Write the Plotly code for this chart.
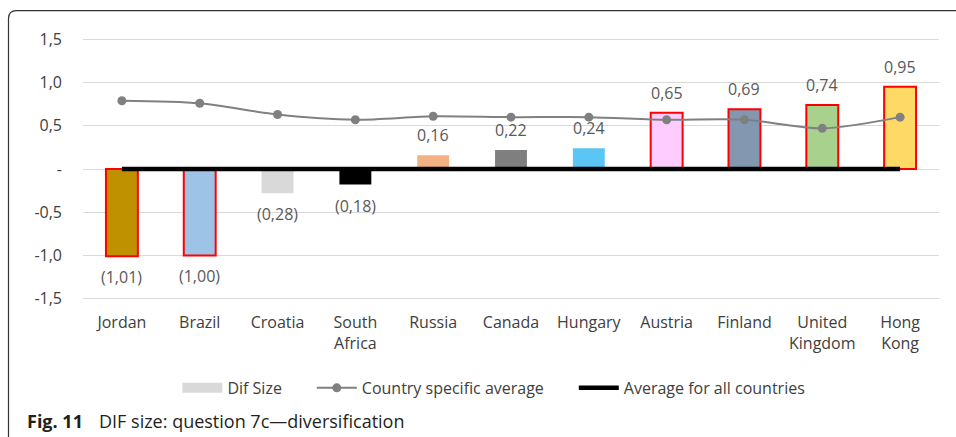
import plotly.graph_objects as go

# ---- data -------------------------------------------------------------
countries = ["Jordan", "Brazil", "Croatia", "South<br>Africa", "Russia", "Canada",
             "Hungary", "Austria", "Finland", "United<br>Kingdom", "Hong<br>Kong"]
dif_size = [-1.01, -1.00, -0.28, -0.18, 0.16, 0.22, 0.24, 0.65, 0.69, 0.74, 0.95]
country_avg = [0.79, 0.76, 0.63, 0.57, 0.61, 0.60, 0.60, 0.57, 0.57, 0.47, 0.60]
overall_avg = [0, 0, 0, 0, 0, 0, 0, 0, 0, 0, 0]

bar_colors = ["#BF9000", "#9DC3E6", "#D9D9D9", "#000000", "#F4B183", "#7F7F7F",
              "#5BC5F5", "#FFCCFF", "#8497B0", "#A9D18E", "#FFD966"]
outlined = [True, True, False, False, False, False, False, True, True, True, True]

y_ticks = [-1.5, -1.0, -0.5, 0, 0.5, 1.0, 1.5]
y_tick_text = ["-1,5", "-1,0", "-0,5", "-", "0,5", "1,0", "1,5"]

FONT = "Open Sans"
PAD = "\u00a0" * 6   # spacing after a legend entry


def fmt(v):
    s = f"{abs(v):.2f}".replace(".", ",")
    return f"({s})" if v < 0 else s


fig = go.Figure()

# legend entry for the bars (bars themselves use individual colours)
fig.add_trace(go.Scatter(x=[None], y=[None], mode="lines", name="Dif Size" + PAD,
                         line=dict(color="#D9D9D9", width=10)))

fig.add_trace(go.Bar(
    x=countries, y=dif_size, width=0.41, showlegend=False,
    marker=dict(color=bar_colors,
                line=dict(color="#FF0000", width=[2 if o else 0 for o in outlined])),
))

fig.add_trace(go.Scatter(
    x=countries, y=country_avg, mode="lines+markers",
    name="Country specific average" + PAD,
    line=dict(color="#808080", width=2, shape="spline", smoothing=0.8),
    marker=dict(color="#808080", size=9),
))

fig.add_trace(go.Scatter(
    x=countries, y=overall_avg, mode="lines", name="Average for all countries",
    line=dict(color="#000000", width=4.5),
))

# value labels on the bars
for c, v in zip(countries, dif_size):
    fig.add_annotation(x=c, y=v, text=fmt(v), showarrow=False,
                       yshift=20 if v > 0 else -21,
                       font=dict(family=FONT, size=16, color="#595959"))

# caption
fig.add_annotation(xref="paper", yref="paper", x=-0.0678, y=-0.441,
                   text="<b>Fig. 11</b>", showarrow=False, xanchor="left", yanchor="middle",
                   font=dict(family=FONT, size=18, color="#231F20"))
fig.add_annotation(xref="paper", yref="paper", x=0.0164, y=-0.441,
                   text="DIF size: question 7c\u2014diversification", showarrow=False,
                   xanchor="left", yanchor="middle",
                   font=dict(family=FONT, size=18, color="#231F20"))

# rounded frame around the figure
fig.add_shape(type="path", xref="paper", yref="paper", xanchor=0, yanchor=0,
              xsizemode="pixel", ysizemode="pixel",
              path="M -74.5,-170 L -74.5,284.3 Q -74.5,292.3 -66.5,292.3 L 900,292.3",
              line=dict(color="#333333", width=1.2))

fig.update_layout(
    width=956, height=437,
    margin=dict(l=83, r=17, t=35, b=134),
    paper_bgcolor="white", plot_bgcolor="white",
    bargap=0.5,
    font=dict(family=FONT, size=16, color="#404040"),
    showlegend=True,
    legend=dict(orientation="h", x=0.48, xanchor="center", y=-0.317, yanchor="middle",
                font=dict(family=FONT, size=16, color="#404040"), itemwidth=40,
                traceorder="normal"),
    xaxis=dict(type="category", categoryorder="array", categoryarray=countries,
               showgrid=False, zeroline=False, showline=False, ticks="",
               ticklabelstandoff=8, tickfont=dict(family=FONT, size=16, color="#404040"),
               range=[-0.5, 10.5]),
    yaxis=dict(range=[-1.55, 1.55], tickvals=y_ticks, ticktext=y_tick_text,
               showgrid=True, gridcolor="#D9D9D9", gridwidth=1, zeroline=False,
               showline=False, ticks="", ticklabelstandoff=20,
               tickfont=dict(family=FONT, size=16, color="#404040")),
)

fig.write_html("out.html")
